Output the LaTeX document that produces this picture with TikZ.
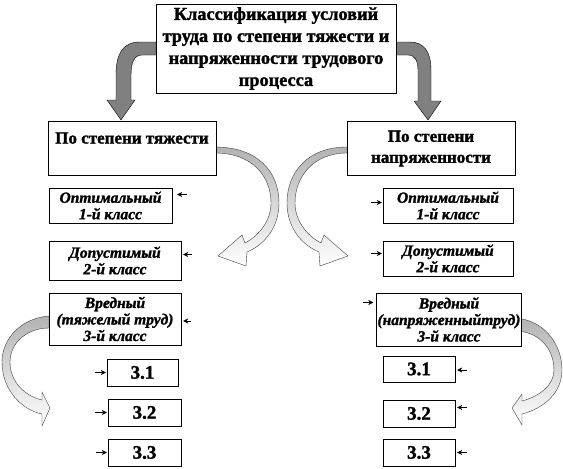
\documentclass[tikz,border=0pt]{standalone}
\usepackage{fontspec}
\setmainfont{Liberation Serif}[BoldFeatures={FakeBold=1.6}, BoldItalicFeatures={FakeBold=1.6}]
\usetikzlibrary{arrows.meta, calc}

\begin{document}
\begin{tikzpicture}[x=1pt, y=-1pt,
    box/.style={draw, thin, fill=white, inner sep=1pt, align=center, font=\bfseries\fontsize{17}{21}\selectfont},
    cls/.style={draw, thin, fill=white, inner sep=1pt, align=center, font=\bfseries\itshape\fontsize{15.5}{16.5}\selectfont},
    sub/.style={draw, thin, fill=white, inner sep=1pt, font=\bfseries\fontsize{19}{20}\selectfont},
    tick/.style={-{Stealth[length=5pt, width=5pt]}, thin},
    dark/.style={draw=black, thin, fill=black!50},
    light/.style={draw=black!75, thin, top color=black!30, bottom color=white},
]
\useasboundingbox (0,0) rectangle (563,469);

% Big arrows from the title
\path[dark] (156,42) -- (140,42) .. controls (122,42) and (116,55) .. (116,75) -- (116,100)
    -- (107,100) -- (121,120) -- (135,100) -- (131,100) -- (131,75)
    .. controls (131,63) and (134,55) .. (142,55) -- (156,55) -- cycle;
\path[dark] (396,42) -- (410,42) .. controls (424,42) and (431,52) .. (431,70) -- (431,101)
    -- (441,101) -- (428,120) -- (414,101) -- (418,101) -- (418,70)
    .. controls (418,61) and (415,55) .. (408,55) -- (396,55) -- cycle;

% Curved arrows between the columns
\path[light] (215,147) .. controls (258,147) and (279,172) .. (279,203)
    .. controls (279,226) and (266,244) .. (247,252) -- (246,266) -- (218,256) -- (242,235)
    -- (245,243) .. controls (260,235) and (271,220) .. (271,203)
    .. controls (271,176) and (252,153) .. (215,153) -- cycle;
\path[light] (347,147) .. controls (308,147) and (287,172) .. (287,203)
    .. controls (287,226) and (300,244) .. (319,252) -- (320,266) -- (348,256) -- (324,235)
    -- (321,243) .. controls (306,235) and (295,220) .. (295,203)
    .. controls (295,176) and (314,153) .. (347,153) -- cycle;

% Curved arrows to the subclasses
\path[light] (49,316) .. controls (22,318) and (2,338) .. (2,362)
    .. controls (2,390) and (22,410) .. (42,414) -- (42,426) -- (50,408) -- (42,392)
    -- (42,400) .. controls (25,396) and (10,382) .. (10,362)
    .. controls (10,342) and (28,328) .. (49,328) -- cycle;
\path[light] (515,318) .. controls (545,320) and (562,345) .. (562,370)
    .. controls (562,392) and (545,408) .. (522,414) -- (522,425) -- (512,408) -- (522,394)
    -- (522,401) .. controls (540,396) and (554,385) .. (554,370)
    .. controls (554,348) and (538,331) .. (515,331) -- cycle;

% Title and the two branches
\node[box, minimum width=240pt, minimum height=89pt, font=\bfseries\fontsize{18.3}{22}\selectfont] (title) at (276,48.5)
    {Классификация условий\\труда по степени тяжести и\\напряженности трудового\\процесса};
\node[box, minimum width=168pt, minimum height=54pt] (heavy) at (132,148.5) {По степени тяжести\\\mbox{}};
\node[box, minimum width=168pt, minimum height=54pt] (tense) at (431,148.5) {По степени\\напряженности};

% Classes, left
\node[cls, minimum width=123pt, minimum height=35pt] (h1) at (110.5,205.5) {Оптимальный\\1-й класс};
\node[cls, minimum width=132pt, minimum height=39pt] (h2) at (115,260.5) {Допустимый\\2-й класс};
\node[cls, minimum width=132pt, minimum height=52pt] (h3) at (115,319) {Вредный\\(тяжелый труд)\\3-й класс};

% Classes, right
\node[cls, minimum width=130pt, minimum height=35pt] (t1) at (448,205.5) {Оптимальный\\1-й класс};
\node[cls, minimum width=130pt, minimum height=35pt] (t2) at (448,258.5) {Допустимый\\2-й класс};
\node[cls, minimum width=132pt, minimum height=53pt] (t3) at (449,319.5) {Вредный\\(напряженныйтруд)\\3-й класс};

% Subclasses
\node[sub, minimum width=71pt, minimum height=27pt] (h31) at (142.5,372.5) {3.1};
\node[sub, minimum width=73pt, minimum height=27pt] (h32) at (144.5,412.5) {3.2};
\node[sub, minimum width=73pt, minimum height=27pt] (h33) at (144.5,452.5) {3.3};
\node[sub, minimum width=72pt, minimum height=26pt] (t31) at (419,369) {3.1};
\node[sub, minimum width=72pt, minimum height=27pt] (t32) at (419,413.5) {3.2};
\node[sub, minimum width=72pt, minimum height=27pt] (t33) at (419,452.5) {3.3};

% Small pointers
\draw[tick] ([xshift=15pt, yshift=11pt]h1.east) -- ([xshift=5pt, yshift=11pt]h1.east);
\draw[tick] ([xshift=11pt, yshift=6pt]h2.east) -- ([xshift=2pt, yshift=6pt]h2.east);
\draw[tick] ([xshift=10pt, yshift=-2pt]h3.east) -- ([xshift=2pt, yshift=-2pt]h3.east);
\draw[tick] ([xshift=-12pt, yshift=3pt]t1.west) -- ([xshift=-1pt, yshift=3pt]t1.west);
\draw[tick] ([xshift=-12pt, yshift=5pt]t2.west) -- ([xshift=-1pt, yshift=5pt]t2.west);
\draw[tick] ([xshift=-13pt, yshift=17pt]t3.west) -- ([xshift=-3pt, yshift=17pt]t3.west);
\draw[tick] ([xshift=-12pt]h31.west) -- ([xshift=-1pt]h31.west);
\draw[tick] ([xshift=-13pt]h32.west) -- ([xshift=-1pt]h32.west);
\draw[tick] ([xshift=-12pt]h33.west) -- ([xshift=-1pt]h33.west);
\draw[tick] ([xshift=12pt, yshift=-1pt]t31.east) -- ([xshift=2pt, yshift=-1pt]t31.east);
\draw[tick] ([xshift=12pt, yshift=6pt]t32.east) -- ([xshift=2pt, yshift=6pt]t32.east);
\draw[tick] ([xshift=12pt]t33.east) -- ([xshift=2pt]t33.east);
\end{tikzpicture}
\end{document}
